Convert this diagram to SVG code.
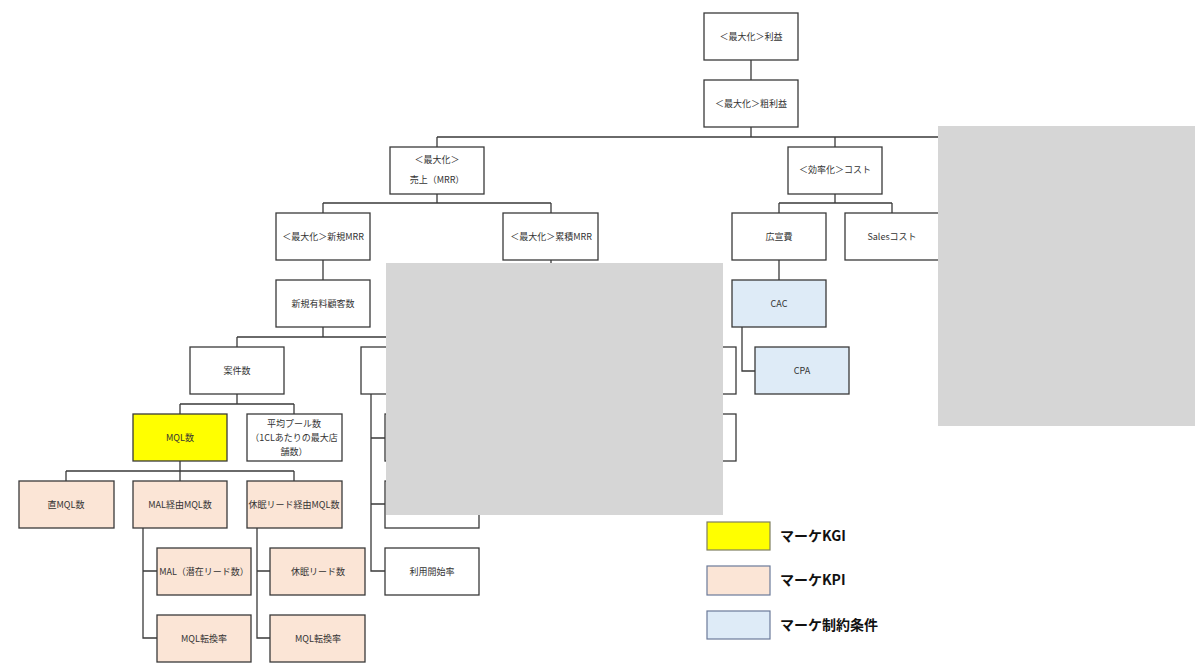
<svg xmlns="http://www.w3.org/2000/svg" width="1200" height="671" viewBox="0 0 1200 671">
<style>
.n{fill:#ffffff;stroke:#3a3a3a;stroke-width:1.3}
.kgi{fill:#ffff00}
.kpi{fill:#fbe5d6}
.con{fill:#deebf7}
.t{font-family:"Noto Sans CJK JP","Liberation Sans",sans-serif;font-size:9px;fill:#333;text-anchor:middle}
.c{fill:none;stroke:#3a3a3a;stroke-width:1.3}
.lg{stroke:#6b7a99;stroke-width:1.2}
.lt{font-family:"Noto Sans CJK JP","Liberation Sans",sans-serif;font-size:14px;font-weight:bold;fill:#111}
.mask{fill:#d6d6d6}
</style>
<rect width="1200" height="671" fill="#ffffff"/>
<g id="connectors" class="c">
<path d="M751 60V80"/>
<path d="M751 127V137M437 137H1010M437 137V147M835 137V147"/>
<path d="M437 194V203M323 203H551M323 203V213M551 203V213"/>
<path d="M835 194V203M779 203H892M779 203V213M892 203V213"/>
<path d="M551 260V270"/>
<path d="M323 260V280"/>
<path d="M779 260V280"/>
<path d="M742 327V371H755"/>
<path d="M323 327V337M237 337H408M237 337V347M408 337V347"/>
<path d="M237 394V404M180 404H294M180 404V414M294 404V414"/>
<path d="M180 461V471M66 471H294M66 471V481M180 471V481M294 471V481"/>
<path d="M143 528V638H157M143 571H157"/>
<path d="M257 528V638H270M257 571H270"/>
<path d="M371 394V571H385M371 438H385M371 504H385"/>
</g>
<g id="n-rieki"><rect class="n" x="704" y="13" width="94" height="47"/><text class="t" x="751" y="40">＜最大化＞利益</text></g>
<g id="n-arari"><rect class="n" x="704" y="80" width="94" height="47"/><text class="t" x="751" y="107">＜最大化＞粗利益</text></g>
<g id="n-uriage"><rect class="n" x="390" y="147" width="94" height="47"/><text class="t" x="437" y="163">＜最大化＞</text><text class="t" x="437" y="183">売上（MRR）</text></g>
<g id="n-cost"><rect class="n" x="788" y="147" width="94" height="47"/><text class="t" x="835" y="173">＜効率化＞コスト</text></g>
<g id="n-shinki-mrr"><rect class="n" x="276" y="213" width="94" height="47"/><text class="t" x="323" y="240">＜最大化＞新規MRR</text></g>
<g id="n-ruiseki-mrr"><rect class="n" x="503" y="213" width="95" height="47"/><text class="t" x="551" y="240">＜最大化＞累積MRR</text></g>
<g id="n-koukoku"><rect class="n" x="732" y="213" width="94" height="47"/><text class="t" x="779" y="240">広宣費</text></g>
<g id="n-sales"><rect class="n" x="845" y="213" width="94" height="47"/><text class="t" x="892" y="240">Salesコスト</text></g>
<g id="n-shinki-kokyaku"><rect class="n" x="276" y="280" width="94" height="47"/><text class="t" x="323" y="307">新規有料顧客数</text></g>
<g id="n-cac"><rect class="n con" x="732" y="280" width="94" height="47"/><text class="t" x="779" y="307">CAC</text></g>
<g id="n-cpa"><rect class="n con" x="755" y="347" width="94" height="47"/><text class="t" x="802" y="374">CPA</text></g>
<g id="n-anken"><rect class="n" x="190" y="347" width="94" height="47"/><text class="t" x="237" y="374">案件数</text></g>
<g id="n-hidden1"><rect class="n" x="361" y="347" width="94" height="47"/></g>
<g id="n-hidden2"><rect class="n" x="385" y="414" width="94" height="47"/></g>
<g id="n-hidden3"><rect class="n" x="385" y="481" width="94" height="47"/></g>
<g id="n-hidden4"><rect class="n" x="642" y="347" width="94" height="47"/></g>
<g id="n-hidden5"><rect class="n" x="642" y="414" width="94" height="47"/></g>
<g id="n-riyou"><rect class="n" x="385" y="548" width="94" height="47"/><text class="t" x="432" y="575">利用開始率</text></g>
<g id="n-mql"><rect class="n kgi" x="133" y="414" width="94" height="47"/><text class="t" x="180" y="441">MQL数</text></g>
<g id="n-pool"><rect class="n" x="247" y="414" width="95" height="47"/><text class="t" x="294" y="427">平均プール数</text><text class="t" x="294" y="441">（1CLあたりの最大店</text><text class="t" x="294" y="455">舗数）</text></g>
<g id="n-choku"><rect class="n kpi" x="19" y="481" width="95" height="47"/><text class="t" x="66" y="508">直MQL数</text></g>
<g id="n-mal-mql"><rect class="n kpi" x="133" y="481" width="94" height="47"/><text class="t" x="180" y="508">MAL経由MQL数</text></g>
<g id="n-kyumin-mql"><rect class="n kpi" x="247" y="481" width="95" height="47"/><text class="t" x="294" y="508">休眠リード経由MQL数</text></g>
<g id="n-mal"><rect class="n kpi" x="157" y="548" width="94" height="47"/><text class="t" x="204" y="575">MAL（潜在リード数）</text></g>
<g id="n-mal-rate"><rect class="n kpi" x="157" y="615" width="94" height="47"/><text class="t" x="204" y="642">MQL転換率</text></g>
<g id="n-kyumin"><rect class="n kpi" x="270" y="548" width="95" height="47"/><text class="t" x="318" y="575">休眠リード数</text></g>
<g id="n-kyumin-rate"><rect class="n kpi" x="270" y="615" width="95" height="47"/><text class="t" x="318" y="642">MQL転換率</text></g>
<g id="masks">
<rect class="mask" x="386" y="263" width="337" height="252"/>
<rect class="mask" x="938" y="126" width="257" height="300"/>
</g>
<g id="legend">
<rect x="707" y="522" width="63" height="28" fill="#ffff00" stroke="#7f7f60" stroke-width="1.2"/>
<text class="lt" x="780" y="541">マーケKGI</text>
<rect class="lg kpi" x="707" y="566" width="63" height="29"/>
<text class="lt" x="780" y="585">マーケKPI</text>
<rect class="lg con" x="707" y="611" width="63" height="28"/>
<text class="lt" x="780" y="630">マーケ制約条件</text>
</g>
</svg>
